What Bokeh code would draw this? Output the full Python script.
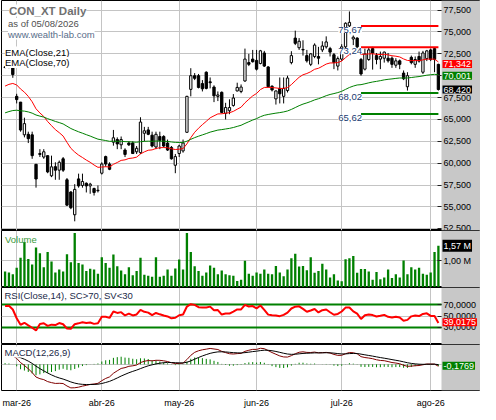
import numpy as np
from bokeh.plotting import figure
from bokeh.layouts import column
from bokeh.models import (Range1d, FixedTicker, CustomJSTickFormatter,
                          Label, Span, BoxAnnotation, ColumnDataSource)
from bokeh.embed import file_html
from bokeh.resources import INLINE

FONT = "Liberation Sans"

# ---------------- data ----------------
title_text = "CON_XT Daily"
asof_text = "as of 05/08/2026"
site_text = "www.wealth-lab.com"
ema21_name = "EMA(Close,21)"
ema70_name = "EMA(Close,70)"
vol_name = "Volume"
rsi_name = "RSI(Close,14), SC>70, SV<30"
macd_name = "MACD(12,26,9)"

month_labels = ["mar-26", "abr-26", "may-26", "jun-26", "jul-26", "ago-26"]
month_start_idx = [3, 25, 45, 65, 87, 110]

open_ = [71.00, 70.95, 71.00, 67.64, 66.98, 63.24, 63.30, 63.24, 59.87, 61.10,
         60.70, 60.86, 58.55, 59.60, 59.20, 60.50, 58.10, 56.70, 54.10, 58.20,
         57.45, 57.70, 57.40, 57.10, 56.85, 58.85, 60.75, 59.90, 62.40, 62.70,
         62.10, 61.50, 62.30, 62.30, 61.30, 61.20, 63.42, 63.80, 63.20, 61.85,
         63.05, 63.05, 62.30, 61.80, 59.76, 61.10, 61.40, 63.53, 68.44, 70.00,
         70.00, 69.10, 70.40, 69.30, 68.70, 67.64, 68.10, 65.70, 66.00, 66.60,
         68.26, 68.20, 69.40, 71.50, 71.90, 71.75, 71.40, 72.60, 71.00, 68.80,
         67.35, 68.55, 67.64, 68.30, 71.50, 74.30, 73.20, 73.00, 72.30, 71.30,
         72.20, 72.20, 72.95, 73.30, 73.10, 72.40, 71.10, 71.90, 73.30, 75.70,
         74.20, 74.30, 71.85, 70.75, 71.85, 73.10, 72.30, 71.90, 72.00, 72.00,
         72.00, 71.20, 71.70, 70.30, 68.74, 72.10, 71.30, 72.20, 70.40, 71.96,
         72.95, 73.10, 71.30]
high = [71.10, 71.10, 71.05, 67.93, 67.00, 65.20, 63.60, 63.60, 59.90, 61.60,
        61.60, 60.90, 60.86, 60.10, 60.30, 60.70, 58.30, 56.80, 57.60, 58.80,
        58.80, 57.80, 57.75, 57.20, 57.45, 60.10, 60.86, 60.10, 63.80, 62.95,
        63.05, 61.70, 62.50, 62.50, 61.96, 65.25, 64.15, 64.15, 63.60, 63.60,
        63.60, 63.20, 62.70, 61.96, 61.05, 62.10, 62.70, 67.70, 70.86, 70.30,
        70.20, 69.50, 70.50, 69.80, 68.90, 68.20, 68.20, 66.90, 67.30, 67.90,
        69.20, 69.00, 73.10, 72.50, 72.95, 72.95, 72.95, 72.84, 71.10, 68.90,
        68.30, 69.80, 69.80, 70.00, 72.80, 75.15, 74.30, 74.05, 72.95, 72.60,
        73.70, 73.30, 73.94, 74.50, 73.30, 72.60, 72.20, 73.60, 76.10, 77.35,
        74.60, 74.40, 72.03, 73.10, 73.20, 73.30, 72.60, 72.76, 72.76, 72.60,
        72.20, 72.00, 71.85, 70.60, 70.40, 72.30, 72.20, 72.76, 72.84, 72.95,
        73.10, 73.20, 71.37]
low = [70.85, 70.85, 69.76, 66.83, 63.60, 62.95, 62.30, 60.50, 57.20, 60.70,
       60.50, 58.85, 58.40, 58.10, 58.10, 59.00, 55.10, 54.74, 53.35, 57.20,
       57.20, 56.65, 56.50, 56.30, 56.65, 58.70, 59.60, 59.20, 62.00, 61.60,
       61.60, 60.70, 61.96, 61.05, 61.05, 61.05, 62.50, 63.20, 61.80, 61.60,
       61.60, 61.80, 61.40, 60.40, 58.85, 60.70, 61.20, 63.50, 67.64, 69.50,
       68.55, 68.20, 68.44, 68.55, 66.98, 67.10, 65.70, 65.00, 65.60, 66.46,
       68.20, 68.00, 69.30, 71.10, 71.50, 70.60, 71.30, 71.00, 68.66, 68.20,
       66.70, 66.83, 66.83, 68.08, 71.30, 73.50, 72.95, 72.30, 71.50, 71.10,
       72.00, 71.30, 72.70, 73.10, 72.20, 70.75, 70.60, 71.70, 73.10, 75.50,
       73.50, 73.10, 70.00, 70.60, 71.70, 70.70, 71.30, 70.75, 71.50, 71.50,
       70.90, 70.90, 70.75, 69.50, 68.30, 71.30, 70.90, 71.50, 70.20, 71.67,
       71.67, 70.40, 68.30]
close = [70.95, 71.00, 70.13, 67.27, 63.79, 64.52, 62.80, 60.86, 58.19, 61.00,
         61.30, 59.00, 59.58, 59.20, 60.10, 59.20, 55.20, 54.90, 57.00, 57.40,
         57.90, 57.40, 57.60, 56.65, 56.90, 59.90, 59.90, 59.30, 62.90, 62.20,
         62.70, 61.00, 62.10, 61.10, 61.70, 64.70, 63.70, 63.30, 61.96, 63.30,
         62.60, 61.96, 61.50, 60.50, 60.75, 61.96, 62.30, 67.64, 70.00, 69.70,
         68.66, 68.50, 68.55, 69.20, 67.70, 67.80, 65.80, 66.36, 66.36, 67.45,
         68.66, 68.70, 71.90, 71.30, 71.60, 70.75, 72.85, 71.10, 68.74, 68.37,
         68.26, 67.93, 68.55, 69.73, 72.30, 73.70, 73.94, 72.95, 71.70, 72.50,
         73.50, 72.00, 73.40, 73.86, 72.70, 71.50, 71.96, 73.30, 76.00, 76.10,
         74.40, 73.30, 70.20, 72.50, 72.95, 72.60, 71.85, 72.20, 72.70, 71.70,
         71.30, 71.70, 71.30, 69.65, 70.00, 71.50, 71.85, 71.67, 72.60, 72.84,
         71.85, 71.85, 68.42]
volume_m = [0.60, 0.56, 0.50, 0.74, 1.12, 1.71, 1.07, 0.86, 1.50, 1.29,
            0.76, 1.33, 0.98, 0.56, 0.68, 0.60, 1.25, 0.95, 2.05, 0.92,
            0.86, 0.62, 0.70, 0.68, 0.52, 1.14, 0.92, 0.74, 1.24, 0.80,
            0.64, 0.50, 0.76, 0.46, 0.62, 1.12, 0.48, 0.44, 0.40, 1.14,
            0.40, 0.44, 0.68, 0.44, 0.71, 1.05, 0.68, 2.05, 1.33, 0.80,
            0.62, 0.44, 0.56, 0.83, 0.74, 0.50, 0.64, 0.50, 0.46, 0.44,
            0.24, 0.29, 1.00, 0.52, 0.44, 0.56, 0.52, 0.68, 0.52, 0.50,
            0.81, 0.56, 0.42, 0.68, 1.10, 1.27, 0.79, 0.81, 0.65, 1.14,
            0.55, 0.62, 0.89, 0.68, 0.38, 0.50, 0.26, 0.23, 1.06, 1.10,
            1.18, 0.55, 0.69, 0.69, 0.60, 0.29, 0.58, 0.31, 0.38, 0.68,
            0.36, 0.50, 0.38, 1.01, 0.50, 0.76, 0.68, 0.74, 0.52, 0.48,
            0.56, 1.33, 1.57]

price_ticks = [52.5, 55.0, 57.5, 60.0, 62.5, 65.0, 67.5, 70.0, 72.5, 75.0, 77.5]
volume_ticks = [1.0]
rsi_ticks = [30, 50, 70]

resist_levels = [75.67, 73.24]
support_levels = [68.02, 65.62]
level_labels_r = ["75,67", "73,24"]
level_labels_s = ["68,02", "65,62"]
level_start_idx = 92

# indicator warm-up states before the first visible bar (read from the left edge)
ema21_seed = 68.6
ema70_seed = 65.6
prev_close_seed = 71.0
rsi_gain_seed = 0.50
rsi_loss_seed = 0.235
ema12_seed = 70.0
ema26_seed = 68.8
signal_seed = 1.0

# last values shown in the right-hand boxes
last_ema21 = 71.342
last_ema70 = 70.001
last_close = 68.420
last_volume_m = 1.57
last_rsi = 39.0175
last_macd = -0.1769

# axis view ranges
price_view = (52.3, 78.6)
volume_view = (0.0, 2.14)
rsi_view = (0.0, 100.0)
macd_view = (-3.33, 2.52)


# ---------------- indicators ----------------
def ema(vals, n, seed):
    a = 2.0 / (n + 1)
    e = seed
    out = []
    for v in vals:
        e = e + a * (v - e)
        out.append(e)
    return np.array(out)


def rsi_wilder(vals, n, prev, g, l):
    out = []
    for v in vals:
        d = v - prev
        g = (g * (n - 1) + max(d, 0.0)) / n
        l = (l * (n - 1) + max(-d, 0.0)) / n
        out.append(100.0 * g / (g + l))
        prev = v
    return np.array(out)


N = len(close)
idx = np.arange(N)
c = np.array(close)
o = np.array(open_)
ema21 = ema(c, 21, ema21_seed)
ema70 = ema(c, 70, ema70_seed)
rsi = rsi_wilder(c, 14, prev_close_seed, rsi_gain_seed, rsi_loss_seed)
macd = ema(c, 12, ema12_seed) - ema(c, 26, ema26_seed)
signal = ema(macd, 9, signal_seed)
hist = macd - signal

# ---------------- layout ----------------
MAIN_W = 440           # chart area width (px)
FULL_W = 479           # chart area + grey value column
GREY = "#c8c8c8"
GRID = "#c4c4c4"
XR0 = -0.925
XR_MAIN_END = 112.8
XR_END = XR0 + (XR_MAIN_END - XR0) * FULL_W / MAIN_W
x_range = Range1d(XR0, XR_END)


def fmt(decimals, suffix=""):
    return CustomJSTickFormatter(
        code="return tick.toFixed(%d).replace('.', ',') + '%s';" % (decimals, suffix))


def base_fig(h, yr, below=False, yaxis=True):
    p = figure(frame_width=FULL_W, frame_height=h, x_range=x_range, y_range=yr,
               output_backend="svg", toolbar_location=None,
               x_axis_location="below" if below else None,
               y_axis_location="right" if yaxis else None,
               min_border_left=1, min_border_right=0,
               min_border_top=0, min_border_bottom=0,
               border_fill_color="white", background_fill_color="white",
               outline_line_color="black", outline_line_width=1)
    p.xgrid.ticker = FixedTicker(ticks=month_start_idx)
    p.xgrid.grid_line_color = GRID
    p.ygrid.grid_line_color = GRID
    for ax in p.yaxis:
        ax.fixed_location = XR_MAIN_END
        ax.major_label_text_font = FONT
        ax.major_label_text_font_size = "9px"
        ax.major_label_text_color = "black"
        ax.major_tick_in = 4
        ax.major_tick_out = 0
        ax.major_tick_line_color = "#202020"
        ax.minor_tick_line_color = None
        ax.axis_line_color = None
        ax.major_label_standoff = 2
    return p


def grey_column(p):
    p.add_layout(BoxAnnotation(left=XR_MAIN_END, fill_color=GREY, fill_alpha=1.0,
                               line_color=None, level="underlay"))


def text(p, h, x, top, s, size, color, style="normal", bg="white"):
    p.add_layout(Label(x=x, y=h - top, x_units="screen", y_units="screen", text=s,
                       text_font=FONT, text_font_size="%spx" % size, text_color=color,
                       text_font_style=style, text_baseline="top", text_align="left",
                       background_fill_color=bg))


def box(p, y, s, bg):
    p.add_layout(Label(x=XR_MAIN_END, y=y, x_offset=1, text=s,
                       text_font=FONT, text_font_size="9px", text_color="white",
                       text_baseline="middle", text_align="left",
                       background_fill_color=bg, padding=1))


# ---- price pane ----
H_P = 230
p = base_fig(H_P, Range1d(*price_view))
p.yaxis.ticker = FixedTicker(ticks=price_ticks)
p.yaxis.formatter = fmt(3)
p.ygrid.ticker = FixedTicker(ticks=price_ticks)
grey_column(p)

src = ColumnDataSource(dict(
    x=idx, h=high, l=low,
    top=np.maximum(o, c), bottom=np.minimum(o, c),
    fill=["white" if cc >= oo else "black" for oo, cc in zip(o, c)]))
p.segment(x0="x", y0="l", x1="x", y1="h", source=src, line_color="black", line_width=1)
p.vbar(x="x", top="top", bottom="bottom", width=0.6, source=src,
       fill_color="fill", line_color="black", line_width=1)
p.line(idx, ema21, line_color="#ff0000", line_width=1)
p.line(idx, ema70, line_color="#008000", line_width=1)

last_i = N - 1
for levels, labels, col in ((resist_levels, level_labels_r, "#ff0000"),
                            (support_levels, level_labels_s, "#008000")):
    for lv, lab in zip(levels, labels):
        p.segment(x0=[level_start_idx], y0=[lv], x1=[last_i], y1=[lv], line_color=col, line_width=2)
        p.add_layout(Label(x=level_start_idx, y=lv, x_offset=1, y_offset=-1, text=lab, text_font=FONT,
                           text_font_size="9.5px", text_color="#203a70", text_align="right",
                           text_baseline="top", background_fill_color="white"))

text(p, H_P, 7.5, 4.0, title_text, 11.5, "#707070", "bold")
text(p, H_P, 6.5, 17.5, asof_text, 9.5, "#505050")
text(p, H_P, 6.5, 28.0, site_text, 9.5, "#5a6e8a")
text(p, H_P, 3.5, 46.0, ema21_name, 9.5, "black")
text(p, H_P, 3.5, 56.5, ema70_name, 9.5, "black")

box(p, last_ema21, "71,342", "#ff0000")
box(p, last_ema70, "70,001", "#008000")
box(p, last_close, "68,420", "black")

# ---- volume pane ----
H_V = 57
pv = base_fig(H_V, Range1d(*volume_view))
pv.yaxis.ticker = FixedTicker(ticks=volume_ticks)
pv.yaxis.formatter = fmt(2, " M")
pv.ygrid.ticker = FixedTicker(ticks=volume_ticks)
grey_column(pv)
pv.vbar(x=idx, top=volume_m, width=0.6, fill_color="#008000", line_color=None)
text(pv, H_V, 3.5, 3.0, vol_name, 9.5, "#3a9a3a", bg=None)
box(pv, last_volume_m, "1,57 M", "black")

# ---- RSI pane ----
H_R = 57
pr = base_fig(H_R, Range1d(*rsi_view))
pr.yaxis.ticker = FixedTicker(ticks=rsi_ticks)
pr.yaxis.formatter = fmt(4)
pr.ygrid.ticker = FixedTicker(ticks=[50])
pr.add_layout(Span(location=70, dimension="width", line_color="#008000", line_width=2, level="underlay"))
pr.add_layout(Span(location=30, dimension="width", line_color="#008000", line_width=2, level="underlay"))
grey_column(pr)
pr.line(idx, rsi, line_color="#ff0000", line_width=2)
text(pr, H_R, 3.0, 2.0, rsi_name, 9.5, "#222a48", bg=None)
box(pr, last_rsi, "39,0175", "#ff0000")

# ---- MACD pane ----
H_M = 46
pm = base_fig(H_M, Range1d(*macd_view), below=True, yaxis=False)
pm.ygrid.ticker = FixedTicker(ticks=[0])
grey_column(pm)
pm.segment(x0=idx, y0=np.zeros(N), x1=idx, y1=hist, line_color="#008000", line_width=1)
pm.line(idx, macd, line_color="#800000", line_width=1)
pm.line(idx, signal, line_color="black", line_width=1)
ax = pm.xaxis[0]
ax.ticker = FixedTicker(ticks=month_start_idx)
ax.major_label_overrides = {int(k): v for k, v in zip(month_start_idx, month_labels)}
ax.major_label_text_font = FONT
ax.major_label_text_font_size = "9px"
ax.major_label_text_color = "black"
ax.major_tick_line_color = None
ax.minor_tick_line_color = None
ax.axis_line_color = None
ax.major_label_standoff = 1
text(pm, H_M, 3.0, 2.0, macd_name, 9.5, "#222a48")
box(pm, last_macd, "-0,1769", "#008000")

layout = column(p, pv, pr, pm, spacing=0)
open("out.html", "w").write(file_html(layout, INLINE))
